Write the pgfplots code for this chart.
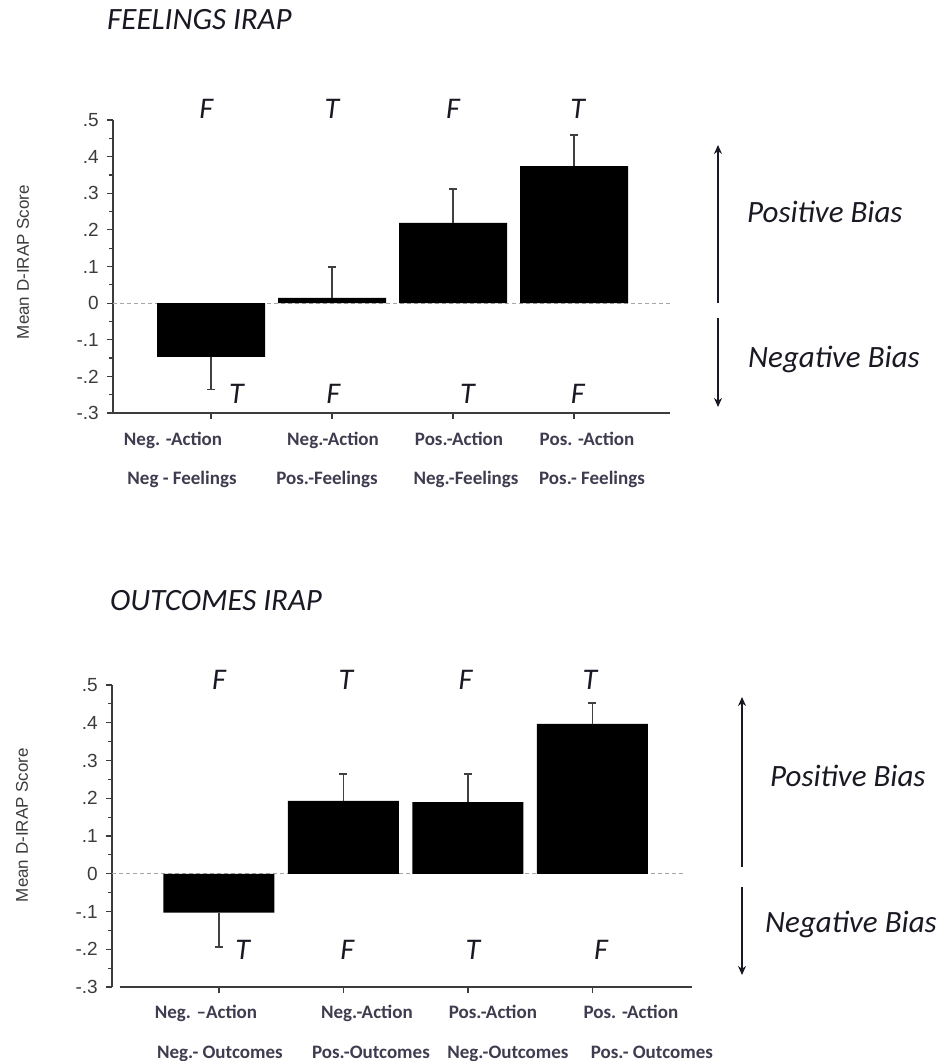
\documentclass[border=0pt]{standalone}
\usepackage{pgfplots}
\pgfplotsset{compat=1.18}
\usetikzlibrary{arrows.meta}
\usepackage{fontspec}
\setmainfont{Carlito}
\newfontfamily\arial{Liberation Sans}
\definecolor{axgray}{RGB}{60,60,60}
\definecolor{catgray}{RGB}{62,60,78}
\definecolor{txt}{RGB}{25,25,35}
\newcommand{\sh}[2]{\makebox[0pt]{\hspace*{#1}\hspace*{#1}#2}}

\tikzset{
 tf/.style={font=\itshape\fontsize{30}{30}\selectfont, color=txt, anchor=base, inner sep=0pt},
}
\pgfplotsset{
 myaxis/.style={
  scale only axis, anchor=south west,
  ymin=-0.3, ymax=0.5,
  ytick={-0.3,-0.2,-0.1,0,0.1,0.2,0.3,0.4,0.5},
  yticklabels={-.3,-.2,-.1,0,.1,.2,.3,.4,.5},
  minor y tick num=1,
  xtick={0,1,2,3},
  axis lines=left,
  axis line style={-, color=axgray, line width=1.6pt},
  every outer x axis line/.append style={-},
  every outer y axis line/.append style={-},
  tick align=outside,
  major tick length=6pt, minor tick length=3.5pt,
  tick style={color=axgray, line width=1.2pt},
  yticklabel style={font=\arial\fontsize{19}{19}\selectfont, color=axgray, inner sep=0pt, anchor=east, xshift=-8pt},
  xticklabel style={font=\bfseries\fontsize{19}{39}\selectfont, color=catgray, align=center, inner sep=0pt, anchor=north},
  clip=false,
 },
 zeroline/.style={color=gray!70, dash pattern=on 4pt off 3pt, line width=1.2pt},
 ebar/.style={draw=none, mark=none, forget plot, error bars/.cd, y dir=#1, y explicit,
   error bar style={draw=black!75, line width=1.3pt},
   error mark=-,
   error mark options={draw=black!75, line width=1.3pt, mark size=4pt, rotate=90}},
}

\begin{document}
\begin{tikzpicture}[x=1pt,y=1pt]
\useasboundingbox (0,0) rectangle (942,1061);

% ---------------- FEELINGS IRAP ----------------
\begin{axis}[myaxis,
  at={(113pt,648pt)}, width=557pt, height=293pt,
  xmin=-0.81, xmax=3.793,
  ylabel={Mean D-IRAP Score},
  every axis y label/.style={at={(axis description cs:-0.1616,0.515)}, rotate=90, anchor=center,
     font=\arial\fontsize{17}{18}\selectfont, color=axgray},
  xticklabels={
   {\sh{-38pt}{Neg. -Action}\\\sh{-29pt}{Neg - Feelings}},
   {\sh{1pt}{Neg.-Action}\\\sh{-5pt}{Pos.-Feelings}},
   {\sh{6pt}{Pos.-Action}\\\sh{13pt}{Neg.-Feelings}},
   {\sh{13pt}{Pos. -Action}\\\sh{18pt}{Pos.- Feelings}}},
  xticklabel style={yshift=-13pt},
]
\addplot[zeroline] coordinates {(-0.81,0) (3.793,0)};
\addplot[ybar, bar width=108pt, fill=black, draw=none] coordinates {(0,-0.147) (1,0.014) (2,0.219) (3,0.374)};
\addplot[ebar=plus] coordinates {(1,0.014) +- (0,0.085) (2,0.219) +- (0,0.093) (3,0.374) +- (0,0.085)};
\addplot[ebar=minus] coordinates {(0,-0.147) +- (0,0.088)};
\node[tf] at (axis cs:-0.04,0.505) {F};
\node[tf] at (axis cs:1.0,0.505) {T};
\node[tf] at (axis cs:2.0,0.505) {F};
\node[tf] at (axis cs:3.03,0.505) {T};
\node[tf] at (axis cs:0.21,-0.273) {T};
\node[tf] at (axis cs:1.01,-0.273) {F};
\node[tf] at (axis cs:2.12,-0.273) {T};
\node[tf] at (axis cs:3.03,-0.273) {F};
\end{axis}

% ---------------- OUTCOMES IRAP ----------------
\begin{axis}[myaxis,
  at={(112pt,74pt)}, width=580pt, height=302pt,
  xmin=-0.859, xmax=3.80,
  x axis line style={shorten <=8pt},
  ylabel={Mean D-IRAP Score},
  every axis y label/.style={at={(axis description cs:-0.155,0.536)}, rotate=90, anchor=center,
     font=\arial\fontsize{17}{18}\selectfont, color=axgray},
  xticklabels={
   {\sh{-13pt}{Neg. –Action}\\\sh{1pt}{Neg.- Outcomes}},
   {\sh{23.5pt}{Neg.-Action}\\\sh{27.5pt}{Pos.-Outcomes}},
   {\sh{25pt}{Pos.-Action}\\\sh{40pt}{Neg.-Outcomes}},
   {\sh{38.5pt}{Pos. -Action}\\\sh{59.5pt}{Pos.- Outcomes}}},
  xticklabel style={yshift=-11.5pt, font=\bfseries\fontsize{19}{40}\selectfont},
]
\addplot[zeroline] coordinates {(-0.859,0) (3.743,0)};
\addplot[ybar, bar width=111pt, fill=black, draw=none] coordinates {(0,-0.103) (1,0.193) (2,0.19) (3,0.397)};
\addplot[ebar=plus] coordinates {(1,0.193) +- (0,0.071) (2,0.19) +- (0,0.074) (3,0.397) +- (0,0.055)};
\addplot[ebar=minus] coordinates {(0,-0.103) +- (0,0.091)};
\node[tf] at (axis cs:0,0.489) {F};
\node[tf] at (axis cs:1.02,0.489) {T};
\node[tf] at (axis cs:1.98,0.489) {F};
\node[tf] at (axis cs:2.98,0.489) {T};
\node[tf] at (axis cs:0.19,-0.228) {T};
\node[tf] at (axis cs:1.03,-0.228) {F};
\node[tf] at (axis cs:2.04,-0.228) {T};
\node[tf] at (axis cs:3.07,-0.228) {F};
\end{axis}

% ---------------- titles, bias arrows ----------------
\node[anchor=base west, inner sep=0pt, color=txt, font=\itshape\fontsize{31}{31}\selectfont] at (107,1031) {FEELINGS IRAP};
\node[anchor=base west, inner sep=0pt, color=txt, font=\itshape\fontsize{31}{31}\selectfont] at (110,450) {OUTCOMES IRAP};

\node[anchor=base west, inner sep=0pt, color=txt, font=\itshape\fontsize{31}{31}\selectfont] at (747,838) {Positive Bias};
\node[anchor=base west, inner sep=0pt, color=txt, font=\itshape\fontsize{31}{31}\selectfont] at (748,693) {Negative Bias};
\node[anchor=base west, inner sep=0pt, color=txt, font=\itshape\fontsize{31}{31}\selectfont] at (770,274) {Positive Bias};
\node[anchor=base west, inner sep=0pt, color=txt, font=\itshape\fontsize{31}{31}\selectfont] at (765,128) {Negative Bias};

\draw[-{Stealth[length=9pt,width=8pt]}, line width=1.8pt, color=txt] (718,758) -- (718,916);
\draw[-{Stealth[length=9pt,width=8pt]}, line width=1.8pt, color=txt] (718,743) -- (718,654);
\draw[-{Stealth[length=9pt,width=8pt]}, line width=1.8pt, color=txt] (742,194) -- (742,364);
\draw[-{Stealth[length=9pt,width=8pt]}, line width=1.8pt, color=txt] (742,174) -- (742,86);
\end{tikzpicture}
\end{document}
